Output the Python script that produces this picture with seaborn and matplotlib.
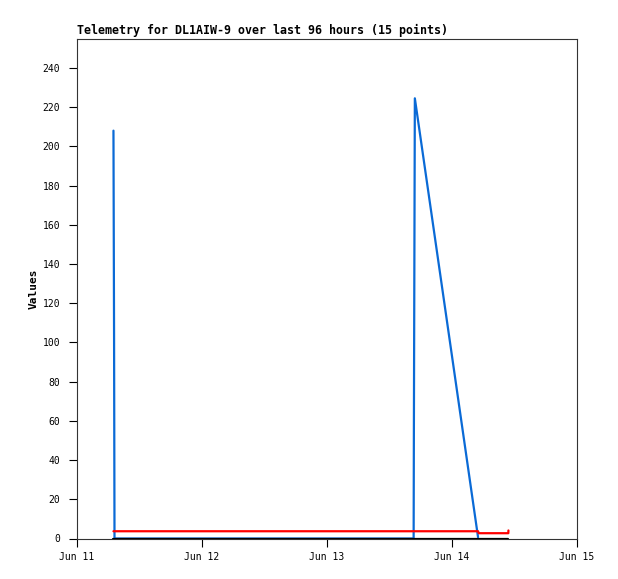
import pandas as pd
import matplotlib.pyplot as plt
import matplotlib.dates as mdates
import seaborn as sns

sns.set_style('white')
plt.rcParams['font.family'] = ['DejaVu Sans Mono', 'DejaVu Sans']
plt.rcParams['text.color'] = 'black'

# telemetry samples (15 points)
times = ['2024-06-11 07:00', '2024-06-11 07:07', '2024-06-11 07:12',
         '2024-06-11 18:00', '2024-06-12 06:00', '2024-06-12 18:00',
         '2024-06-13 06:00', '2024-06-13 16:38', '2024-06-13 16:41',
         '2024-06-13 16:52', '2024-06-14 00:00', '2024-06-14 05:00',
         '2024-06-14 05:08', '2024-06-14 10:49', '2024-06-14 10:50']
ch1 = [208, 104, 0, 0, 0, 0, 0, 0, 56, 224.5, 93, 0.7, None, None, None]
ch2 = [3.7, 3.7, 3.7, 3.7, 3.7, 3.7, 3.7, 3.7, 3.7, 3.7, 3.7, 3.7, 2.7, 2.7, 4.1]
ch3 = [0] * 15

df = pd.DataFrame({'time': pd.to_datetime(times), 'ch1': ch1, 'ch2': ch2, 'ch3': ch3})
long = df.melt(id_vars='time', var_name='channel', value_name='value').dropna()

fig = plt.figure(figsize=(6.18, 5.79), dpi=100)
ax = fig.add_axes([77/618, 1-538.5/579, 500/618, 500/579])

sns.lineplot(data=long, x='time', y='value', hue='channel', estimator=None, sort=True,
             palette={'ch1': '#0a6ad6', 'ch2': '#ff0000', 'ch3': '#000000'},
             linewidth=1.6, legend=False, ax=ax)

ax.set_xlim(pd.Timestamp('2024-06-11'), pd.Timestamp('2024-06-15'))
ax.set_ylim(0, 255)
ax.set_yticks(range(0, 241, 20))
ax.xaxis.set_major_locator(mdates.DayLocator())
ax.xaxis.set_major_formatter(mdates.DateFormatter('%b %d'))
ax.tick_params(bottom=True, left=True, direction='out', length=5.5, width=0.8,
               labelsize=7, colors='black', pad=6.5)
ax.tick_params(axis='x', pad=4.3, labelsize=7)
for s in ax.spines.values():
    s.set_color('#333333')
    s.set_linewidth(0.8)

ax.set_xlabel('')
ax.set_ylabel('Values', fontsize=8, fontweight='bold', color='black')
ax.yaxis.set_label_coords(-0.077, 0.5)
fig.text(77/618, 1-30/579, 'Telemetry for DL1AIW-9 over last 96 hours (15 points)',
         fontsize=8.4, fontweight='bold', va='center', ha='left', color='black')

fig.savefig('out.png', dpi=100)
